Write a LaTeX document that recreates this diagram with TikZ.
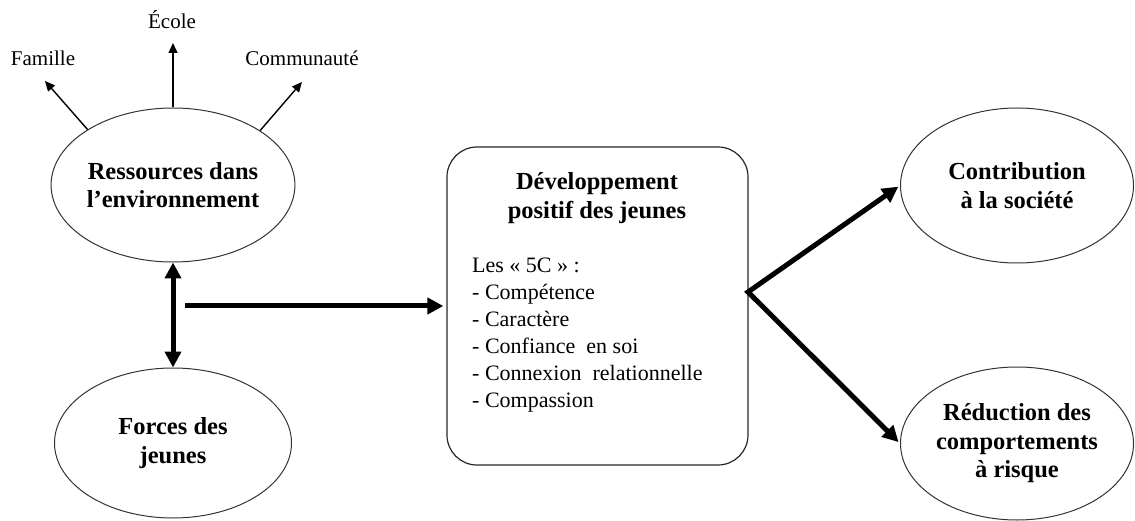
\documentclass[tikz,border=0pt]{standalone}
\usepackage{fontspec}
\setmainfont{Liberation Serif}
\usetikzlibrary{arrows.meta,shapes.geometric}
\begin{document}
\begin{tikzpicture}[x=1pt,y=-1pt,
  ell/.style={draw=black!80, line width=1pt, ellipse, inner sep=0pt, align=center,
              font=\bfseries\fontsize{24.5}{28.5}\selectfont},
  bigarrow/.style={line width=5pt, -{Triangle[length=16pt,width=16pt]}},
  bothbig/.style={line width=5pt, {Triangle[length=16pt,width=16pt]}-{Triangle[length=16pt,width=16pt]}},
  smallarrow/.style={line width=1.4pt, -{Triangle[length=10pt,width=9pt]}},
  lbl/.style={font=\fontsize{21}{24}\selectfont, inner sep=0pt, anchor=base}]
\useasboundingbox (0,0) rectangle (1135,521);

% ellipses
\node[ell, minimum width=242pt, minimum height=154pt] (ress) at (173,185) {Ressources dans\\l’environnement};
\node[ell, minimum width=237pt, minimum height=150pt] (forces) at (173,443) {Forces des\\jeunes};
\node[ell, minimum width=233pt, minimum height=155pt] (contrib) at (1017,185.5) {Contribution\\à la société};
\node[ell, minimum width=233pt, minimum height=153pt] (reduc) at (1017,443.5) {Réduction des\\comportements\\à risque};

% central box
\node[draw=black!85, line width=1.2pt, rounded corners=30pt, minimum width=301pt,
      minimum height=318pt, inner sep=0pt] (box) at (597.5,306) {};
\node[font=\bfseries\fontsize{24.5}{29}\selectfont, align=center, inner sep=0pt] (title) at (597,198)
  {Développement\\positif des jeunes};
\node[font=\fontsize{22}{27}\selectfont, align=left, inner sep=0pt, anchor=north west] (list) at (472,258)
  {Les «~5C~»~:\\- Compétence\\- Caractère\\- Confiance~ en soi\\- Connexion~ relationnelle\\- Compassion};

% top labels
\node[lbl] (famille) at (43,66) {Famille};
\node[lbl] (ecole) at (172,29) {École};
\node[lbl] (commu) at (302,66) {Communauté};
\coordinate (famtip) at (45,81);
\coordinate (ecotip) at (173,43);
\coordinate (comtip) at (302,82);

\draw[smallarrow] (ress.147) -- (famtip);
\draw[smallarrow] (ress.north) -- (ecotip);
\draw[smallarrow] (ress.32) -- (comtip);

% thick connectors
\draw[bothbig] (ress.south) -- (forces.north);
\coordinate (hstart) at (185,306);
\draw[bigarrow, shorten >=3pt] (hstart) -- (box.west);
\coordinate (fork) at (748,292);
\draw[bothbig, line join=miter, shorten <=2pt, shorten >=2pt] (contrib.west) -- (fork) -- (reduc.west);
\end{tikzpicture}
\end{document}
